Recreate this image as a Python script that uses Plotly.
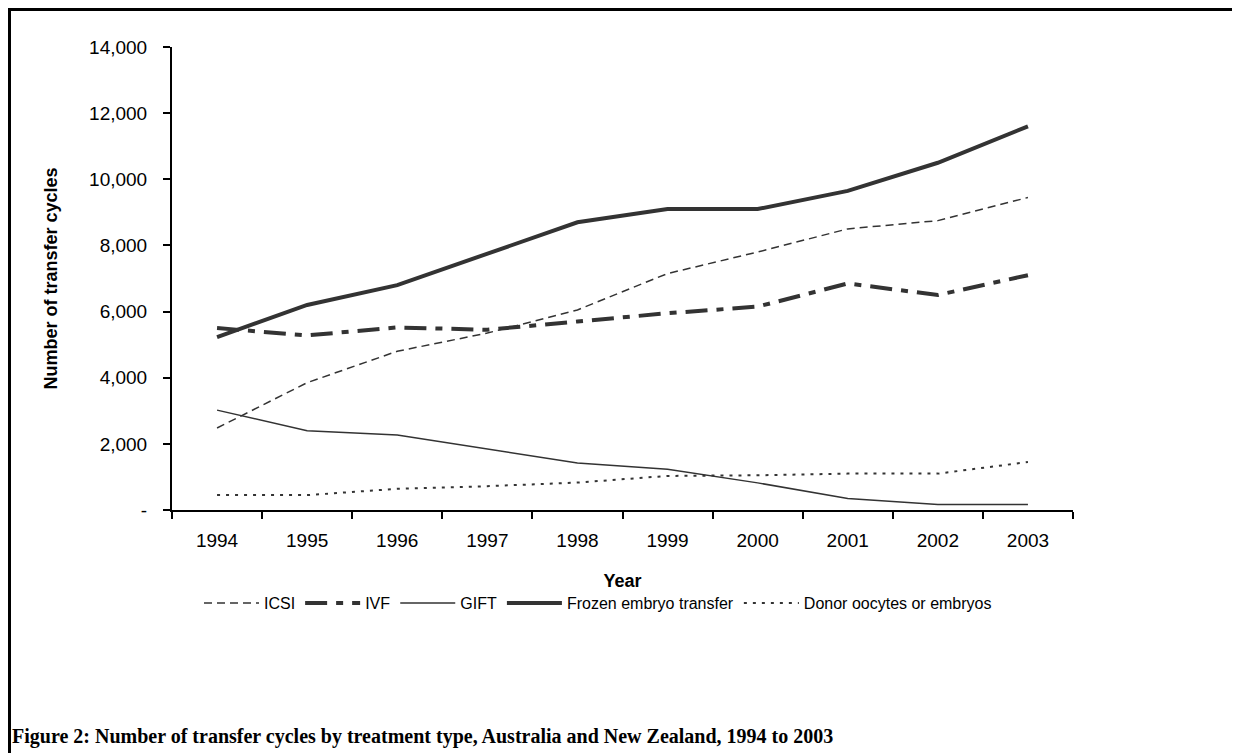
import plotly.graph_objects as go

years = ["1994", "1995", "1996", "1997", "1998", "1999", "2000", "2001", "2002", "2003"]

icsi = [2480, 3850, 4800, 5350, 6050, 7150, 7800, 8500, 8750, 9450]
ivf = [5500, 5280, 5520, 5450, 5700, 5950, 6150, 6850, 6500, 7100]
gift = [3020, 2400, 2270, 1850, 1420, 1230, 820, 350, 170, 170]
frozen = [5230, 6200, 6800, 7750, 8700, 9100, 9100, 9650, 10500, 11600]
donor = [450, 450, 640, 720, 830, 1030, 1050, 1100, 1100, 1450]

y_ticks = [0, 2000, 4000, 6000, 8000, 10000, 12000, 14000]
y_labels = ["-", "2,000", "4,000", "6,000", "8,000", "10,000", "12,000", "14,000"]

LINE = "#333333"
FONT = "Liberation Sans, Arial, sans-serif"

series = [
    ("ICSI", icsi, dict(width=1.5, dash="8px,5px")),
    ("IVF", ivf, dict(width=4, dash="22px,9px,7px,9px")),
    ("GIFT", gift, dict(width=1.5)),
    ("Frozen embryo transfer", frozen, dict(width=4)),
    ("Donor oocytes or embryos", donor, dict(width=2, dash="3px,6px")),
]

fig = go.Figure()
for name, vals, style in series:
    fig.add_trace(go.Scatter(
        x=years, y=vals, name=name, mode="lines",
        line=dict(color=LINE, **style)
    ))

# the page adds an 8px body margin, so figure pixels = page pixels - 8
FW, FH = 1232, 745
L, R, T, B = 164, 1065, 39, 502
W, H = R - L, B - T

def px_x(p):
    return (p - L) / W

def px_y(p):
    return (B - p) / H

fig.update_layout(
    width=FW, height=FH,
    margin=dict(l=L, r=FW - R, t=T, b=FH - B),
    paper_bgcolor="white", plot_bgcolor="white",
    font=dict(family=FONT, color="black", size=19),
    showlegend=True,
    legend=dict(
        orientation="h", x=px_x(590), xanchor="center",
        y=px_y(595), yanchor="middle",
        font=dict(size=16), itemwidth=55,
        bgcolor="rgba(0,0,0,0)"
    ),
    xaxis=dict(
        type="category", range=[-0.5, 9.5], tickson="boundaries",
        showline=True, linecolor="black", linewidth=2,
        ticks="outside", ticklen=7, tickwidth=2, tickcolor="black",
        ticklabelstandoff=12,
        showgrid=False, zeroline=False,
        title=dict(text="<b>Year</b>", standoff=25, font=dict(size=18)),
    ),
    yaxis=dict(
        range=[0, 14000], tickvals=y_ticks, ticktext=y_labels,
        showline=True, linecolor="black", linewidth=2,
        ticks="outside", ticklen=7, tickwidth=2, tickcolor="black",
        ticklabelstandoff=12,
        showgrid=False, zeroline=False,
        title=dict(text="<b>Number of transfer cycles</b>", standoff=27, font=dict(size=18)),
    ),
    shapes=[dict(
        type="rect", xref="paper", yref="paper",
        x0=px_x(1.5), x1=px_x(1230), y0=px_y(780), y1=px_y(1.5),
        line=dict(color="black", width=3), fillcolor="rgba(0,0,0,0)"
    )],
    annotations=[dict(
        text="<b>Figure 2: Number of transfer cycles by treatment type, Australia and New Zealand, 1994 to 2003</b>",
        xref="paper", yref="paper", x=px_x(2), y=px_y(728),
        xanchor="left", yanchor="middle", showarrow=False,
        font=dict(family="Liberation Serif, Times New Roman, serif", size=20, color="black")
    )],
)

fig.write_html("out.html")
